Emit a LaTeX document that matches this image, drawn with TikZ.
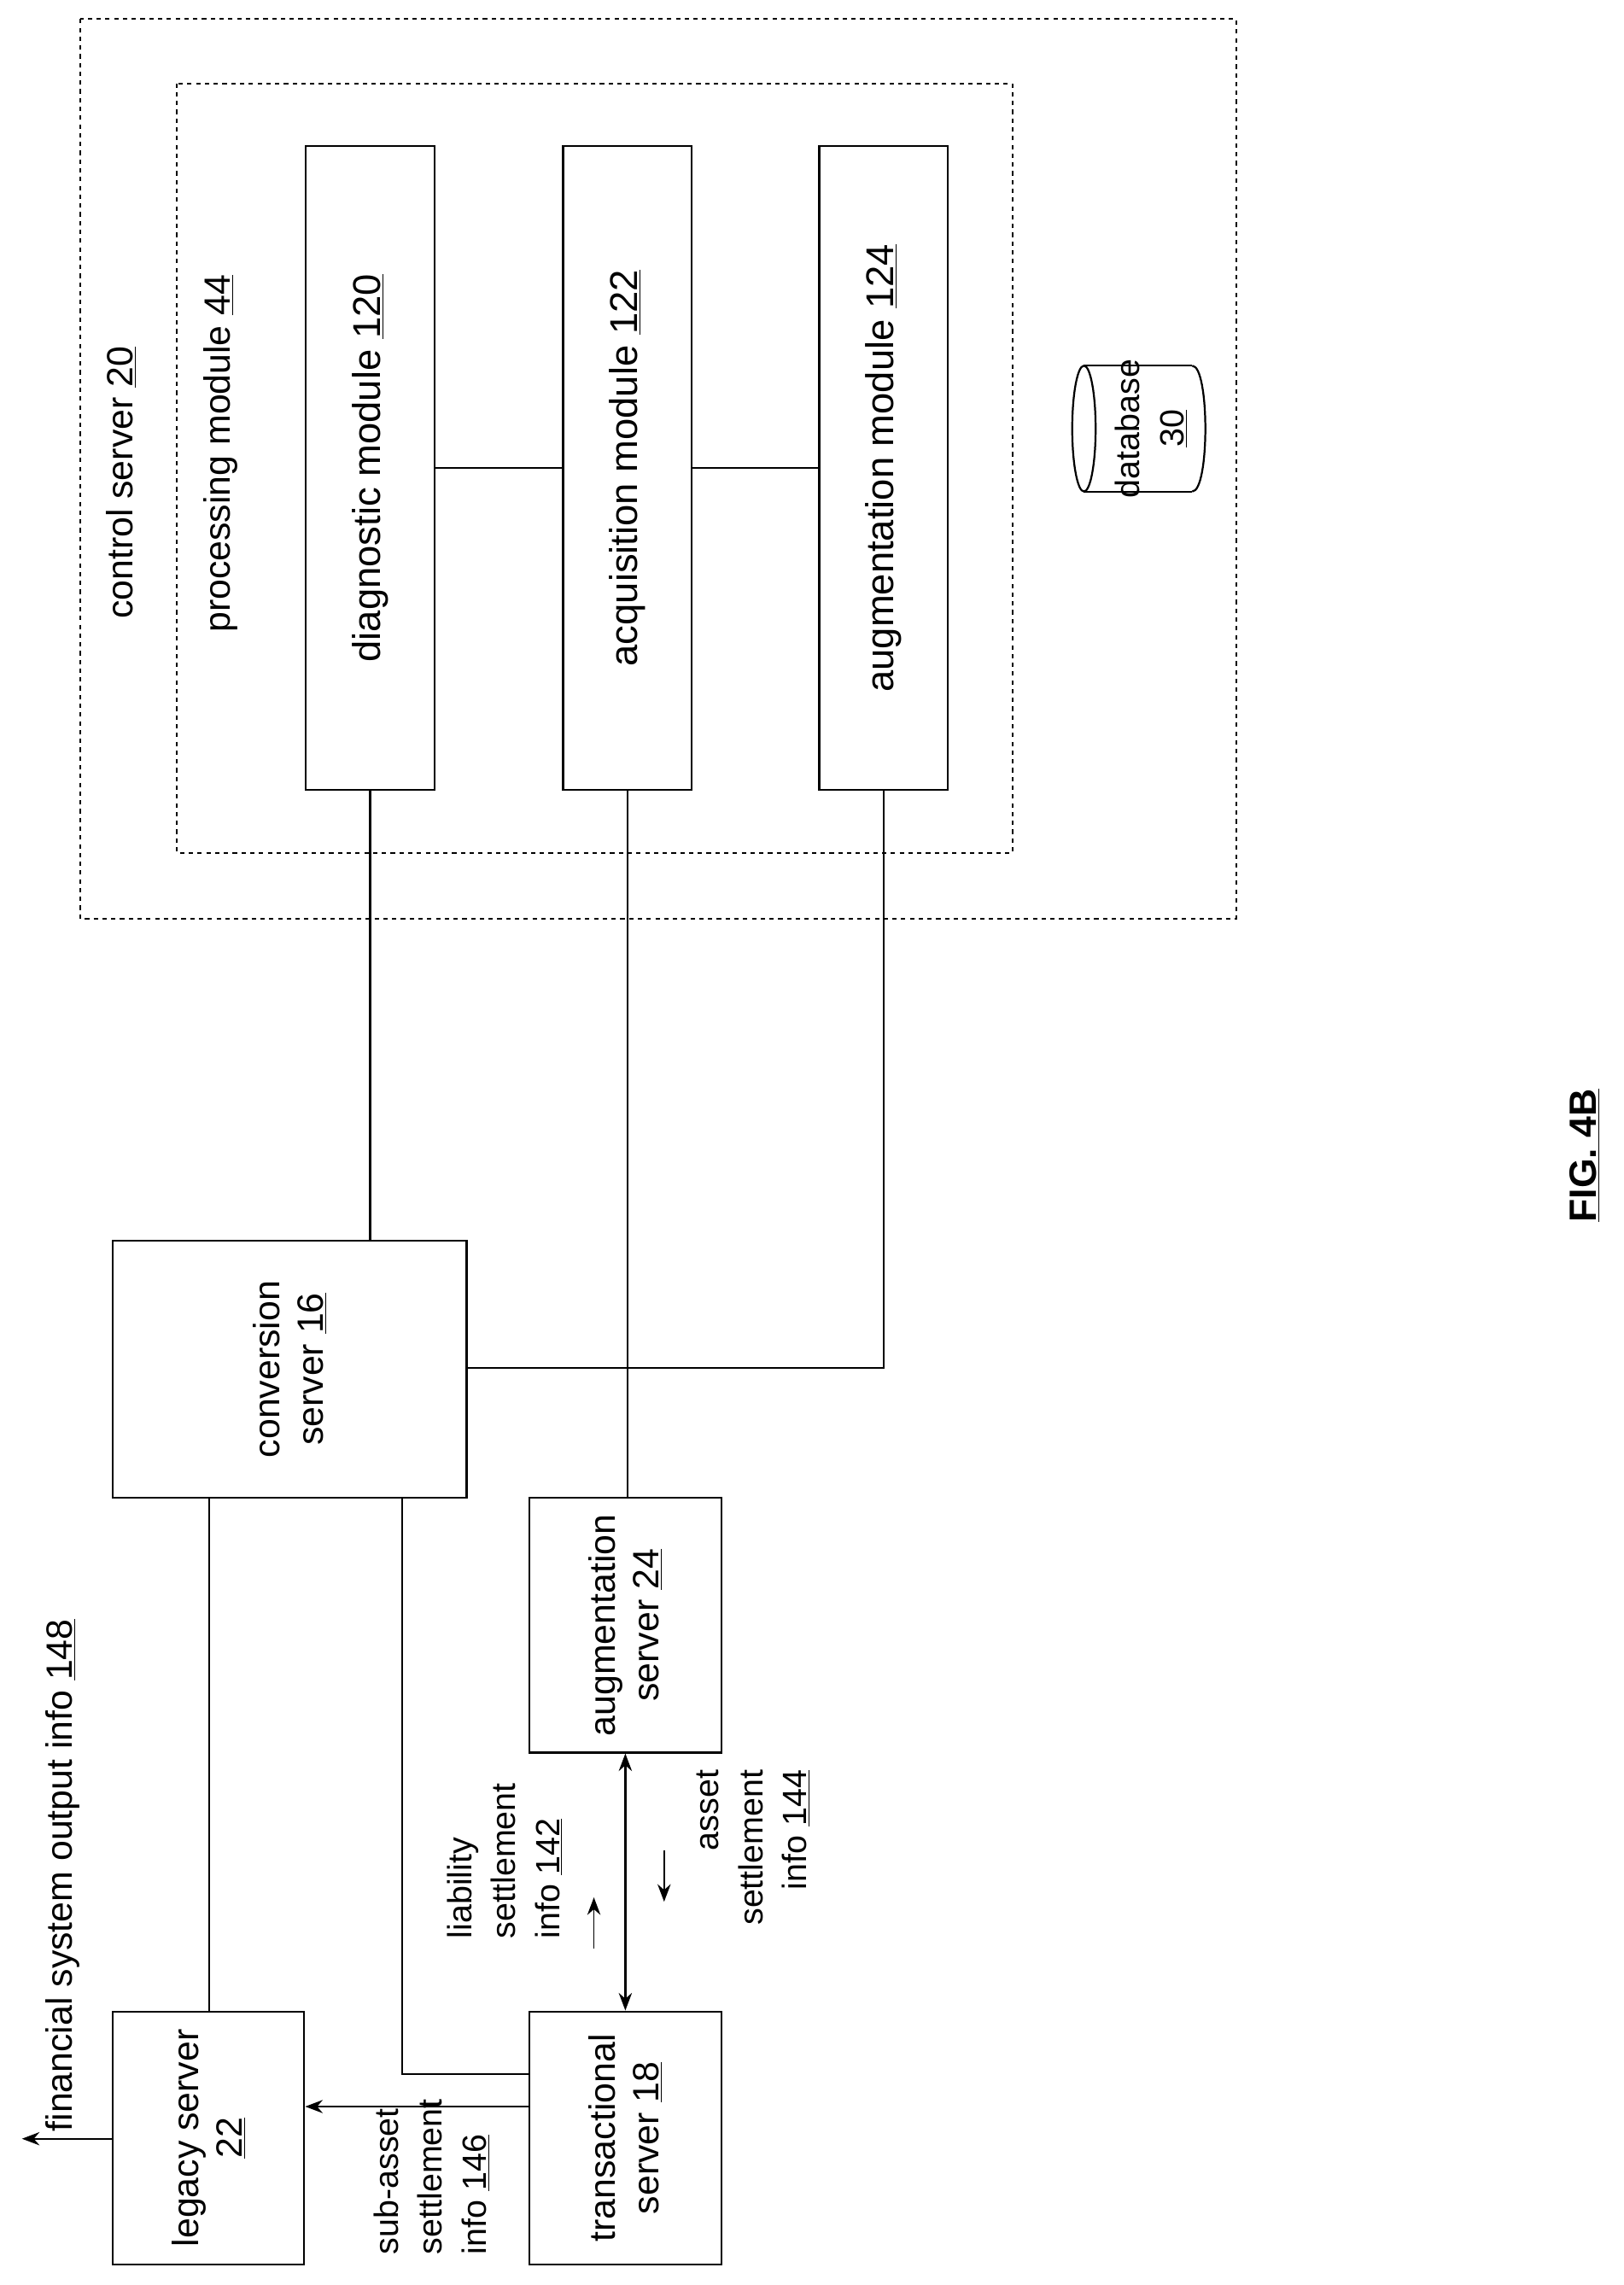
\documentclass[tikz,border=0pt]{standalone}
\usepackage{fontspec}
\setmainfont{Liberation Sans}
\usetikzlibrary{arrows.meta}
\begin{document}
\begin{tikzpicture}[x=1pt,y=-1pt,line width=1.3pt,
  box/.style={draw,line width=1.3pt},
  dashbox/.style={draw,line width=1.2pt,dash pattern=on 3pt off 3pt},
  lbl/.style={rotate=90,font=\fontsize{25}{30}\selectfont,align=center,inner sep=0pt},
  sml/.style={lbl,font=\fontsize{23}{30}\selectfont},
  arr/.style={-{Stealth[length=12pt,width=9pt]}}]
\useasboundingbox (0,0) rectangle (1110,1562);
\draw[dashbox] (55,13) rectangle (845,628);
\draw[dashbox] (121,57) rectangle (692,583);
\node[lbl] (cs) at (83,330) {control server \underline{20}};
\node[lbl] (pm) at (151,310) {processing module \underline{44}};
\node[box,minimum width=88pt,minimum height=440pt,inner sep=0pt] (dm) at (253,320) {};
\node[lbl,font=\fontsize{26.5}{30}\selectfont] at (dm) {diagnostic module \underline{120}};
\node[box,minimum width=88pt,minimum height=440pt,inner sep=0pt] (am) at (429,320) {};
\node[lbl,font=\fontsize{26.5}{30}\selectfont] at (am) {acquisition module \underline{122}};
\node[box,minimum width=88pt,minimum height=440pt,inner sep=0pt] (gm) at (604,320) {};
\node[lbl,font=\fontsize{26.5}{30}\selectfont] at (gm) {augmentation module \underline{124}};
\draw (dm.east) -- (am.west);
\draw (am.east) -- (gm.west);
% database
\draw (741,250) -- (815,250) (741,336) -- (815,336);
\draw (741,293) ellipse [x radius=8, y radius=43];
\draw (815,250) .. controls (827,250) and (827,336) .. (815,336);
\node[sml] (db) at (787,293) {database\\\underline{30}};
% servers
\node[box,minimum width=242pt,minimum height=176pt,inner sep=0pt] (conv) at (198,936) {};
\node[lbl] at (conv) {conversion\\server \underline{16}};
\node[box,minimum width=131pt,minimum height=174pt,inner sep=0pt] (aug) at (427.5,1111) {};
\node[lbl] at (aug) {augmentation\\server \underline{24}};
\node[box,minimum width=131pt,minimum height=173pt,inner sep=0pt] (leg) at (142.5,1461.5) {};
\node[lbl] at (leg) {legacy server\\\underline{22}};
\node[box,minimum width=131pt,minimum height=173pt,inner sep=0pt] (tr) at (427.5,1461.5) {};
\node[lbl] at (tr) {transactional\\server \underline{18}};
% connectors
\draw (dm.south) -- (dm.south |- conv.north);
\draw (am.south) -- (am.south |- aug.north);
\draw (gm.south) -- (604,935) -- (conv.east |- 0,935);
\draw (143,1024) -- (143,1375);
\draw (275,1024) -- (275,1418) -- (tr.west |- 0,1418);
\draw[arr] (tr.west |- 0,1440) -- (leg.east |- 0,1440);
\draw[{Stealth[length=12pt,width=9pt]}-{Stealth[length=12pt,width=9pt]}] (aug.south) -- (tr.north);
\coordinate (out) at (15,1462);
\draw[arr] (leg.west |- out) -- (out);
% labels
\node[lbl] (fso) at (43,1282) {financial system output info \underline{148}};
\node[sml,align=left] (lsi) at (345,1272) {liability\\settlement\\info \underline{142}};
\coordinate (a1s) at (406,1332); \coordinate (a1e) at (406,1297);
\draw[arr,line width=1pt] (a1s) -- (a1e);
\coordinate (a2s) at (454,1265); \coordinate (a2e) at (454,1300);
\draw[arr,line width=1pt] (a2s) -- (a2e);
\node[sml,align=right] (asi) at (515,1263) {asset\\settlement\\info \underline{144}};
\node[sml,align=left] (ssi) at (295,1488) {sub-asset\\settlement\\info \underline{146}};
\node[lbl,font=\fontsize{26}{30}\selectfont\bfseries] (fig) at (1083,790) {\underline{FIG. 4B}};
\end{tikzpicture}
\end{document}
